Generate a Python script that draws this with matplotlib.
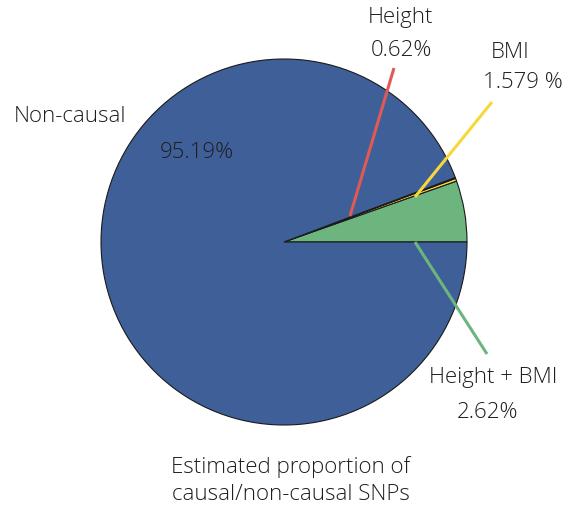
import matplotlib
matplotlib.use('Agg')
import matplotlib.pyplot as plt

# --- data ---
categories = ['Height + BMI', 'BMI', 'Height', 'Non-causal']
label_texts = ['2.62%', '1.579 %', '0.62%', '95.19%']
# wedge sizes as drawn in the picture (percent)
wedge_sizes = [5.4, 0.25, 0.08, 94.27]
colors = ['#6db57f', '#f7d83c', '#e05a55', '#3e5f97']
title_lines = ['Estimated proportion of', 'causal/non-causal SNPs']

W, H = 570, 507
fig = plt.figure(figsize=(W / 100, H / 100), dpi=100)
ax = fig.add_axes([0, 0, 1, 1])


def py(y):
    # pixel row -> data y
    return H - y


ax.pie(wedge_sizes, colors=colors, startangle=0, counterclock=True,
       center=(284, py(242)), radius=183,
       wedgeprops=dict(edgecolor='#1a1a1a', linewidth=0.8))

ax.set_xlim(0, W)
ax.set_ylim(0, H)
ax.set_aspect('equal')
ax.axis('off')

FONT = dict(family=['Open Sans', 'DejaVu Sans'], fontsize=16, color='#1e1e1e',
            ha='center', va='center', fontweight='light')

# leader lines (pixel coords)
leaders = [((415, 242), (487, 354)),
           ((415, 197), (492, 102)),
           ((350, 216), (394, 68))]
for (p0, p1), c in zip(leaders, colors[:3]):
    ax.plot([p0[0], p1[0]], [py(p0[1]), py(p1[1])], color=c, lw=2.2,
            solid_capstyle='butt', zorder=5)

# labels
name_pos = [(493, 377), (510, 52), (400, 17), (70, 117)]
val_pos = [(488, 412), (523, 82), (401, 50), (197, 152)]
for name, val, (nx, ny), (vx, vy) in zip(categories, label_texts, name_pos, val_pos):
    ax.text(nx, py(ny), name, **FONT)
    ax.text(vx, py(vy), val, **FONT)

ax.text(291, py(467), title_lines[0], **FONT)
ax.text(291, py(495), title_lines[1], **FONT)

fig.savefig('out.png', dpi=100)
